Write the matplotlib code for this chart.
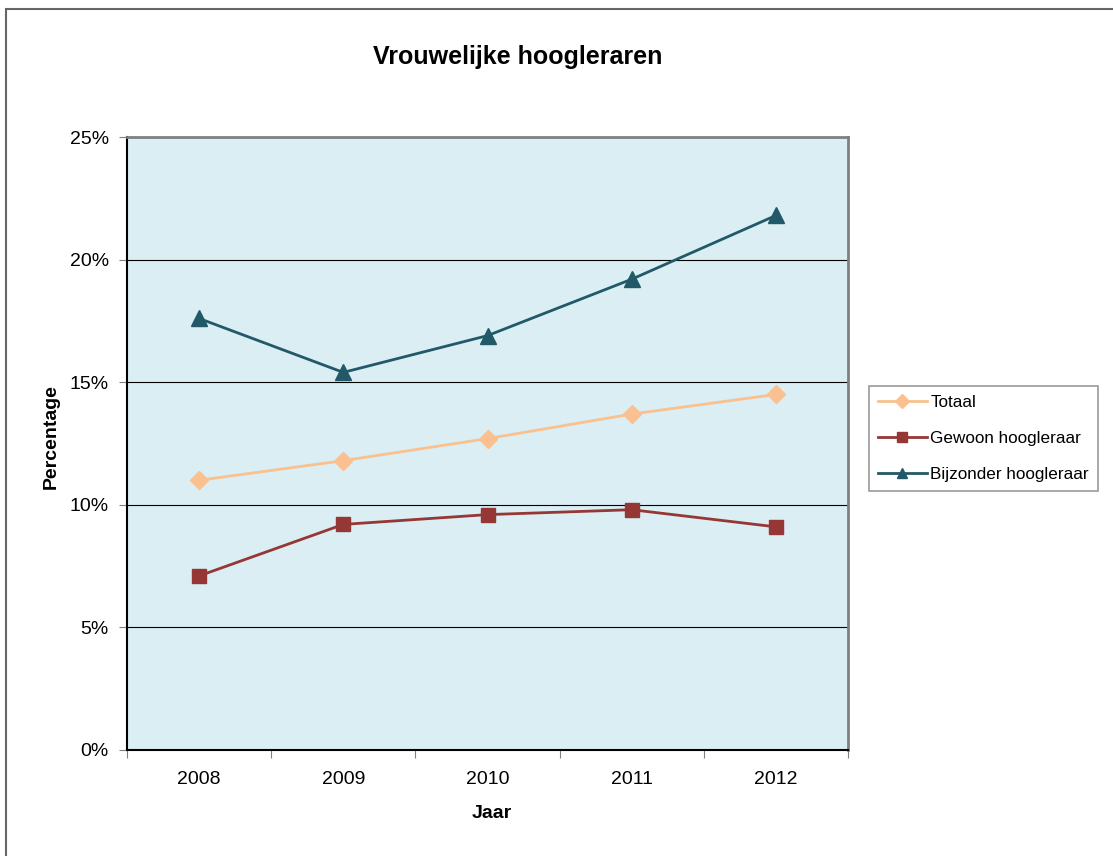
import matplotlib
matplotlib.use("Agg")
import matplotlib.pyplot as plt
from matplotlib.patches import Rectangle
from matplotlib.ticker import FixedLocator, FuncFormatter

plt.rcParams['font.family'] = ['Liberation Sans', 'DejaVu Sans']

years = ["2008", "2009", "2010", "2011", "2012"]
totaal = [11.0, 11.8, 12.7, 13.7, 14.5]
gewoon = [7.1, 9.2, 9.6, 9.8, 9.1]
bijzonder = [17.6, 15.4, 16.9, 19.2, 21.8]
series_names = ["Totaal", "Gewoon hoogleraar", "Bijzonder hoogleraar"]
yticks = [0, 5, 10, 15, 20, 25]

W, H = 1113, 856
fig = plt.figure(figsize=(W / 100, H / 100), dpi=100)

# outer chart border (right and bottom edges fall outside the picture)
fig.patches.append(Rectangle((6 / W, -0.1), 2, 1.1 - 9 / H, transform=fig.transFigure,
                             fill=False, edgecolor="#666666", linewidth=1.5, clip_on=False))

ax = fig.add_axes([127 / W, 1 - 750 / H, (848 - 127) / W, (750 - 137) / H])
ax.set_facecolor("#DAEEF3")

x = list(range(len(years)))
ax.plot(x, totaal, color="#FAC090", marker="D", markersize=9, linewidth=2, label=series_names[0])
ax.plot(x, gewoon, color="#953735", marker="s", markersize=10, linewidth=2, label=series_names[1])
ax.plot(x, bijzonder, color="#215968", marker="^", markersize=11, linewidth=2, label=series_names[2])

ax.set_xlim(-0.5, len(years) - 0.5)
ax.set_ylim(0, 25)
ax.set_yticks(yticks)
ax.yaxis.set_major_formatter(FuncFormatter(lambda v, p: f"{int(v)}%"))
ax.grid(axis="y", color="black", linewidth=0.8)
ax.set_axisbelow(True)

ax.xaxis.set_major_locator(FixedLocator([i - 0.5 for i in range(len(years) + 1)]))
ax.xaxis.set_major_formatter(FuncFormatter(lambda v, p: ""))
ax.xaxis.set_minor_locator(FixedLocator(x))
ax.set_xticklabels(years, minor=True)
ax.tick_params(axis="x", which="minor", length=0, labelsize=14, pad=15)
ax.tick_params(axis="x", which="major", length=6, color="#808080", direction="out")
ax.tick_params(axis="y", length=6, color="#808080", labelsize=14, pad=7)

for s in ["left", "bottom"]:
    ax.spines[s].set_color("black")
    ax.spines[s].set_linewidth(1.5)
for s in ["top", "right"]:
    ax.spines[s].set_color("#808080")
    ax.spines[s].set_linewidth(2)

fig.text(518 / W, 1 - 57 / H, "Vrouwelijke hoogleraren", fontsize=18, fontweight="bold",
         ha="center", va="center")
fig.text(492 / W, 1 - 814 / H, "Jaar", fontsize=14, fontweight="bold", ha="center", va="center")
fig.text(51 / W, 1 - 437 / H, "Percentage", fontsize=14, fontweight="bold", ha="center",
         va="center", rotation=90)

leg = fig.legend(loc="upper left", bbox_to_anchor=(869 / W, 1 - 386 / H), fontsize=12.3,
                 frameon=True, fancybox=False, edgecolor="#808080", handlelength=2.9,
                 borderpad=0.5, labelspacing=1.25, handletextpad=0.2, borderaxespad=0)
leg.get_frame().set_linewidth(1.2)
for h in leg.legend_handles:
    h.set_markersize(7)

fig.savefig("out.png", dpi=100)
